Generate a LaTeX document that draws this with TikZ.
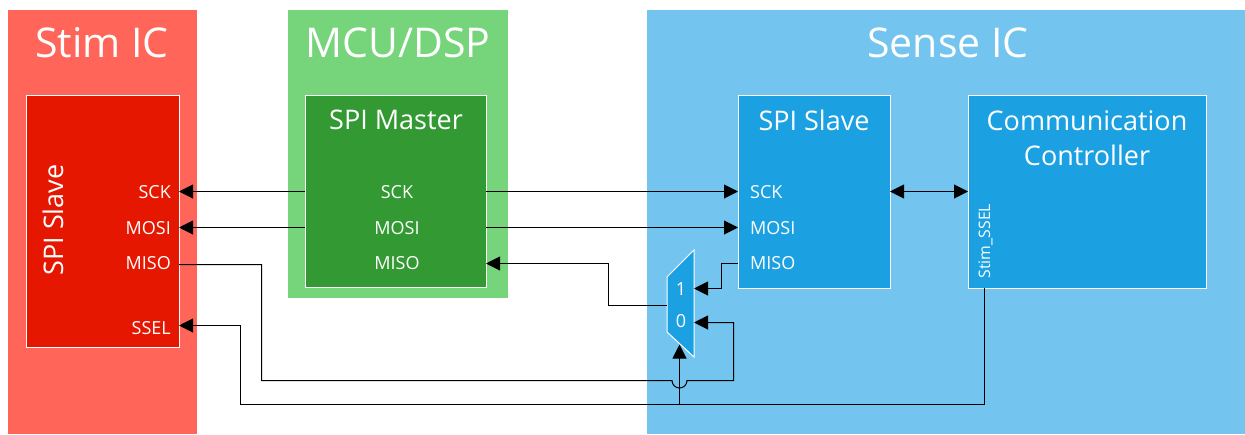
\documentclass[tikz,border=0pt]{standalone}
\usepackage{fontspec}
\setmainfont{Open Sans}
\usetikzlibrary{arrows.meta}
\definecolor{stimO}{HTML}{FF6659}
\definecolor{stimI}{HTML}{E61700}
\definecolor{mcuO}{HTML}{76D47A}
\definecolor{mcuI}{HTML}{339933}
\definecolor{senseO}{HTML}{73C4EE}
\definecolor{senseI}{HTML}{1BA1E2}
\tikzset{
  x=1pt,y=-1pt,
  outerbox/.style={anchor=north west,inner sep=0pt,outer sep=0pt},
  innerbox/.style={draw=white,line width=1pt,anchor=north west,inner sep=0pt,outer sep=0pt},
  title/.style={text=white,font=\fontsize{41}{44}\selectfont,inner sep=0pt},
  blocktitle/.style={text=white,font=\fontsize{27}{35}\selectfont,inner sep=0pt,align=center},
  port/.style={text=white,font=\fontsize{18}{20}\selectfont,inner sep=0pt},
  wire/.style={draw=black,line width=1pt},
  arr/.style={wire,-{Triangle[length=14pt,width=14pt]}},
  barr/.style={wire,{Triangle[length=14pt,width=14pt]}-{Triangle[length=14pt,width=14pt]}},
}
\begin{document}
\begin{tikzpicture}
\useasboundingbox (0,0) rectangle (1245,434);
\fill[white] (0,0) rectangle (1245,434);
% outer regions
\node[outerbox,fill=stimO,minimum width=189pt,minimum height=424pt] (stim) at (8,10) {};
\node[outerbox,fill=mcuO,minimum width=220pt,minimum height=288pt] (mcu) at (288,10) {};
\node[outerbox,fill=senseO,minimum width=598pt,minimum height=424pt] (sense) at (647,10) {};
\node[title] at (102,43) {Stim IC};
\node[title] at (398,43) {MCU/DSP};
\node[title] at (948,43) {Sense IC};
% inner blocks
\node[innerbox,fill=stimI,minimum width=153pt,minimum height=252pt] (stimspi) at (26,95) {};
\node[innerbox,fill=mcuI,minimum width=181pt,minimum height=192pt] (master) at (305,95) {};
\node[innerbox,fill=senseI,minimum width=152pt,minimum height=193pt] (slave) at (738,95) {};
\node[innerbox,fill=senseI,minimum width=238pt,minimum height=193pt] (comm) at (968,95) {};
\node[blocktitle,rotate=90] at (53,220) {SPI Slave};
\node[blocktitle] at (396,120) {SPI Master};
\node[blocktitle] at (814,120) {SPI Slave};
\node[blocktitle] at (1087,138) {Communication\\Controller};
% ports
\node[port,anchor=east] (sSCK) at (171,192.5) {SCK};
\node[port,anchor=east] (sMOSI) at (171,228.5) {MOSI};
\node[port,anchor=east] (sMISO) at (171,263.5) {MISO};
\node[port,anchor=east] (sSSEL) at (171,328.5) {SSEL};
\node[port] (mSCK) at (397,192.5) {SCK};
\node[port] (mMOSI) at (397,228.5) {MOSI};
\node[port] (mMISO) at (397,263.5) {MISO};
\node[port,anchor=west] (lSCK) at (750,192.5) {SCK};
\node[port,anchor=west] (lMOSI) at (750,228.5) {MOSI};
\node[port,anchor=west] (lMISO) at (750,263.5) {MISO};
\node[port,rotate=90,anchor=west,font=\fontsize{15.8}{18}\selectfont] (ssel) at (985.5,278.5) {Stim\_SSEL};
% wire levels
\coordinate (ySCK) at (0,191.5);
\coordinate (yMOSI) at (0,227.5);
\coordinate (yMISO) at (0,263.5);
\coordinate (ySMISO) at (0,264.5);
\coordinate (yLink) at (0,191.5);
\coordinate (ySSEL) at (0,325.5);
% mux
\coordinate (muxTL) at (667,277);
\coordinate (muxTR) at (694,250);
\coordinate (muxBR) at (694,357);
\coordinate (muxBL) at (667,332);
\coordinate (muxOut) at (667,305.5);
\coordinate (muxOne) at (694,288.5);
\coordinate (muxZero) at (694,322.5);
\coordinate (muxSel) at (679.5,344.5);
\filldraw[fill=senseI,draw=white,line width=1pt,line join=miter] (muxTL) -- (muxTR) -- (muxBR) -- (muxBL) -- cycle;
\node[port] (one) at (681,289) {1};
\node[port] (zero) at (681,321) {0};
% connectors
\draw[arr] (master.west |- ySCK) -- (stimspi.east |- ySCK);
\draw[arr] (master.west |- yMOSI) -- (stimspi.east |- yMOSI);
\draw[arr] (master.east |- ySCK) -- (slave.west |- ySCK);
\draw[arr] (master.east |- yMOSI) -- (slave.west |- yMOSI);
\draw[arr] (muxOut) -- (608.5,305.5) -- (608.5,263.5) -- (master.east |- yMISO);
\draw[arr] (slave.west |- yMISO) -- (721.5,263.5) -- (721.5,288.5) -- (muxOne);
\draw[barr] (slave.east |- yLink) -- (comm.west |- yLink);
\draw[arr] (stimspi.east |- ySMISO) -- (261.5,264.5) -- (261.5,380.5) -- (672,380.5) arc[start angle=180,end angle=0,radius=7.5] -- (733.5,380.5) -- (733.5,322.5) -- (muxZero);
\coordinate (cout) at (984.5,288);
\draw[arr] (cout) -- (984.5,404.5) -- (240.5,404.5) -- (240.5,325.5) -- (stimspi.east |- ySSEL);
\draw[arr] (679.5,404.5) -- (muxSel);
\end{tikzpicture}
\end{document}
